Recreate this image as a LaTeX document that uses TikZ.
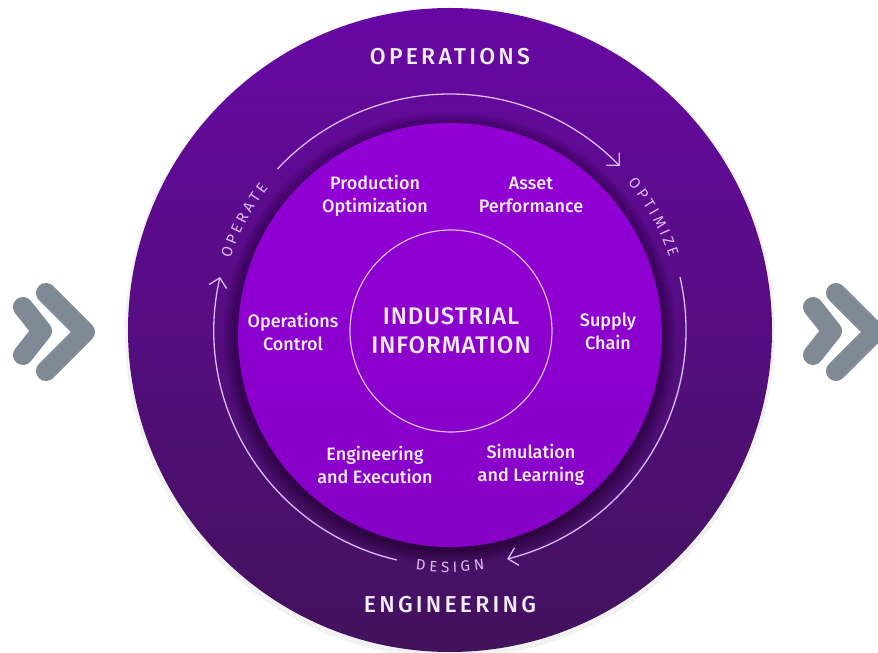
\documentclass[tikz,border=0pt]{standalone}
\usepackage{fontspec}
\setmainfont{Fira Sans}
\newfontfamily\labfont{Fira Sans Medium}
\newfontfamily\titfont[LetterSpace=14]{Fira Sans Medium}
\newfontfamily\cenfont[LetterSpace=4]{Fira Sans Medium}
\newfontfamily\arcfont{Fira Sans}
\usetikzlibrary{arrows.meta}
\definecolor{outerTop}{RGB}{104,8,164}
\definecolor{outerBot}{RGB}{66,18,92}
\definecolor{magTop}{RGB}{146,0,214}
\definecolor{magBot}{RGB}{134,0,198}
\definecolor{txt}{RGB}{246,236,255}
\definecolor{lav}{RGB}{218,188,244}
\definecolor{chevgray}{RGB}{128,138,148}
\tikzset{
  lab/.style={align=center, text=txt, font=\labfont\fontsize{18}{23}\selectfont, inner sep=0pt},
  title/.style={text=txt, font=\titfont\fontsize{23}{28}\selectfont, inner sep=0pt},
  arcletter/.style={text=lav, font=\arcfont\fontsize{15}{15}\selectfont, inner sep=0pt},
  arcline/.style={draw=lav, line width=1.3pt},
  tipb/.style={-{Straight Barb[length=9pt,width=18pt,line width=1.3pt]}},
  chev/.style={draw=chevgray, line width=20pt, line cap=round, line join=round}
}
\begin{document}
\begin{tikzpicture}[x=1pt,y=1pt]
\useasboundingbox (-450,-323) rectangle (428,330);
\fill[white] (-450,-323) rectangle (428,330);
% chevrons
\foreach \dx in {0,790} {
  \draw[chev] (-427,23) ++(\dx,0) -- ++(19,-24) -- ++(-19,-24);
  \draw[chev] (-404,37) ++(\dx,0) -- ++(39,-39) -- ++(-39,-39);
}
% outer disc
\fill[black!5] (0,-3) circle[radius=325pt];
\shade[top color=outerTop, bottom color=outerBot] (0,0) circle[radius=322pt];
% shadow of inner disc
\foreach \i in {1,...,12} {
  \fill[black, opacity=0.03] (0,-8) circle[radius={212pt+1.2pt*\i}];
}
\shade[top color=magTop, bottom color=magBot] (0,-5) circle[radius=212pt];
% core
\node[circle, draw=lav, line width=1.2pt, minimum size=202pt, inner sep=0pt,
      align=center, text=txt, font=\cenfont\fontsize{24}{29}\selectfont] (core) at (1,-1)
      {INDUSTRIAL\\INFORMATION};
% cycle arcs
\draw[arcline, tipb] (137:236pt) arc[start angle=137, end angle=44, radius=236pt];
\draw[arcline, tipb] (13:236pt) arc[start angle=13, end angle=-76, radius=236pt];
\draw[arcline, tipb] (257:236pt) arc[start angle=257, end angle=167, radius=236pt];
% arc words
\foreach \l/\d [count=\i] in {O/-8.73,P/-5.55,E/-2.65,R/0.27,A/3.33,T/6.24,E/9.01} {
  \pgfmathsetmacro\a{152-\d}
  \node[arcletter, rotate=\a-90] (op\i) at (\a:236pt) {\l};
}
\foreach \l/\d [count=\i] in {O/-9.41,P/-6.23,T/-3.35,I/-1.07,M/1.76,I/4.59,Z/6.90,E/9.69} {
  \pgfmathsetmacro\a{29-\d}
  \node[arcletter, rotate=\a-90] (opt\i) at (\a:236pt) {\l};
}
\foreach \l/\d [count=\i] in {D/-7.06,E/-3.97,S/-1.15,I/1.18,G/3.72,N/7.06} {
  \pgfmathsetmacro\a{-90+\d}
  \node[arcletter, rotate=\a+90] (de\i) at (\a:237pt) {\l};
}
% titles
\node[title] (ops) at (0,273) {OPERATIONS};
\node[title] (eng) at (0,-275) {ENGINEERING};
% labels
\node[lab] (po) at (-75,134.5) {Production\\Optimization};
\node[lab] (ap) at (81,135.5) {Asset\\Performance};
\node[lab] (oc) at (-157,-1.5) {Operations\\Control};
\node[lab] (sc) at (158,-1.5) {Supply\\Chain};
\node[lab] (ee) at (-75,-134.5) {Engineering\\and Execution};
\node[lab] (sl) at (81,-134.5) {Simulation\\and Learning};
\end{tikzpicture}
\end{document}
